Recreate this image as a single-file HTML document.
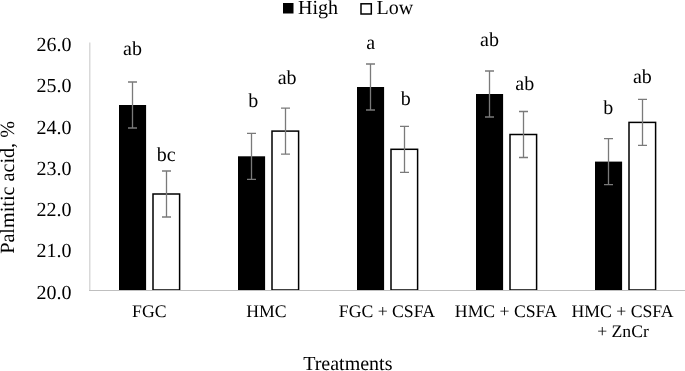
<!DOCTYPE html><html><head><meta charset="utf-8"><style>html,body{margin:0;padding:0;background:#fff;}body{width:685px;height:371px;overflow:hidden;}svg{display:block;will-change:transform;}text{font-family:"Liberation Serif",serif;fill:#000;text-rendering:geometricPrecision;}</style></head><body>
<svg width="685" height="371" viewBox="0 0 685 371">
<rect width="685" height="371" fill="#fff"/>
<line x1="89.75" y1="42.5" x2="89.75" y2="290.0" stroke="#d9d9d9" stroke-width="1.5"/>
<rect x="119.0" y="105" width="27.1" height="185.0" fill="#000"/>
<rect x="153.0" y="194" width="26.6" height="96.0" fill="#fff" stroke="#000" stroke-width="1.5"/>
<rect x="238.0" y="156.3" width="27.1" height="133.7" fill="#000"/>
<rect x="272.0" y="131.1" width="26.6" height="158.9" fill="#fff" stroke="#000" stroke-width="1.5"/>
<rect x="357.0" y="87" width="27.1" height="203.0" fill="#000"/>
<rect x="391.0" y="149.3" width="26.6" height="140.7" fill="#fff" stroke="#000" stroke-width="1.5"/>
<rect x="476.0" y="94" width="27.1" height="196.0" fill="#000"/>
<rect x="510.0" y="134.5" width="26.6" height="155.5" fill="#fff" stroke="#000" stroke-width="1.5"/>
<rect x="595.0" y="161.6" width="27.1" height="128.4" fill="#000"/>
<rect x="629.0" y="122.4" width="26.6" height="167.6" fill="#fff" stroke="#000" stroke-width="1.5"/>
<line x1="89" y1="290.5" x2="685" y2="290.5" stroke="#bfbfbf" stroke-width="1.2"/>
<path d="M132.5 82V128M128.0 82H137.0M128.0 128H137.0" stroke="#7a7a7a" stroke-width="1.3" fill="none"/>
<path d="M166.5 171V217M162.0 171H171.0M162.0 217H171.0" stroke="#7a7a7a" stroke-width="1.3" fill="none"/>
<path d="M251.5 133.3V179.3M247.0 133.3H256.0M247.0 179.3H256.0" stroke="#7a7a7a" stroke-width="1.3" fill="none"/>
<path d="M285.5 108.1V154.1M281.0 108.1H290.0M281.0 154.1H290.0" stroke="#7a7a7a" stroke-width="1.3" fill="none"/>
<path d="M370.5 64V110M366.0 64H375.0M366.0 110H375.0" stroke="#7a7a7a" stroke-width="1.3" fill="none"/>
<path d="M404.5 126.30000000000001V172.3M400.0 126.30000000000001H409.0M400.0 172.3H409.0" stroke="#7a7a7a" stroke-width="1.3" fill="none"/>
<path d="M489.5 71V117M485.0 71H494.0M485.0 117H494.0" stroke="#7a7a7a" stroke-width="1.3" fill="none"/>
<path d="M523.5 111.5V157.5M519.0 111.5H528.0M519.0 157.5H528.0" stroke="#7a7a7a" stroke-width="1.3" fill="none"/>
<path d="M608.5 138.6V184.6M604.0 138.6H613.0M604.0 184.6H613.0" stroke="#7a7a7a" stroke-width="1.3" fill="none"/>
<path d="M642.5 99.4V145.4M638.0 99.4H647.0M638.0 145.4H647.0" stroke="#7a7a7a" stroke-width="1.3" fill="none"/>
<text x="132.5" y="55.2" font-size="20" text-anchor="middle">ab</text>
<text x="166.3" y="161.2" font-size="20" text-anchor="middle">bc</text>
<text x="253.2" y="106.5" font-size="20" text-anchor="middle">b</text>
<text x="287.1" y="83.7" font-size="20" text-anchor="middle">ab</text>
<text x="370.8" y="48.9" font-size="20" text-anchor="middle">a</text>
<text x="405.8" y="104.7" font-size="20" text-anchor="middle">b</text>
<text x="489.5" y="45.6" font-size="20" text-anchor="middle">ab</text>
<text x="524.8" y="90.2" font-size="20" text-anchor="middle">ab</text>
<text x="608.3" y="113.5" font-size="20" text-anchor="middle">b</text>
<text x="642.4" y="82.7" font-size="20" text-anchor="middle">ab</text>
<text x="71.6" y="298.60" font-size="20" text-anchor="end">20.0</text>
<text x="71.6" y="257.35" font-size="20" text-anchor="end">21.0</text>
<text x="71.6" y="216.10" font-size="20" text-anchor="end">22.0</text>
<text x="71.6" y="174.85" font-size="20" text-anchor="end">23.0</text>
<text x="71.6" y="133.60" font-size="20" text-anchor="end">24.0</text>
<text x="71.6" y="92.35" font-size="20" text-anchor="end">25.0</text>
<text x="71.6" y="51.10" font-size="20" text-anchor="end">26.0</text>
<text x="149.3" y="316.7" font-size="17.7" text-anchor="middle">FGC</text>
<text x="266.3" y="316.7" font-size="17.7" text-anchor="middle">HMC</text>
<text x="386.9" y="316.7" font-size="17.7" text-anchor="middle">FGC + CSFA</text>
<text x="505.9" y="316.7" font-size="17.7" text-anchor="middle">HMC + CSFA</text>
<text x="622.6" y="316.7" font-size="17.7" text-anchor="middle">HMC + CSFA</text>
<text x="623" y="337" font-size="17.7" text-anchor="middle">+ ZnCr</text>
<text x="347.8" y="369.8" font-size="20" text-anchor="middle">Treatments</text>
<text transform="translate(14.0,187.4) rotate(-90)" x="0" y="0" font-size="20.2" text-anchor="middle">Palmitic acid, %</text>
<rect x="283" y="3" width="10.5" height="10.5" fill="#000"/>
<text x="298" y="13.6" font-size="20">High</text>
<rect x="361" y="3.8" width="10.3" height="10.2" fill="#fff" stroke="#000" stroke-width="1.5"/>
<text x="376.5" y="13.6" font-size="20">Low</text>
</svg></body></html>
